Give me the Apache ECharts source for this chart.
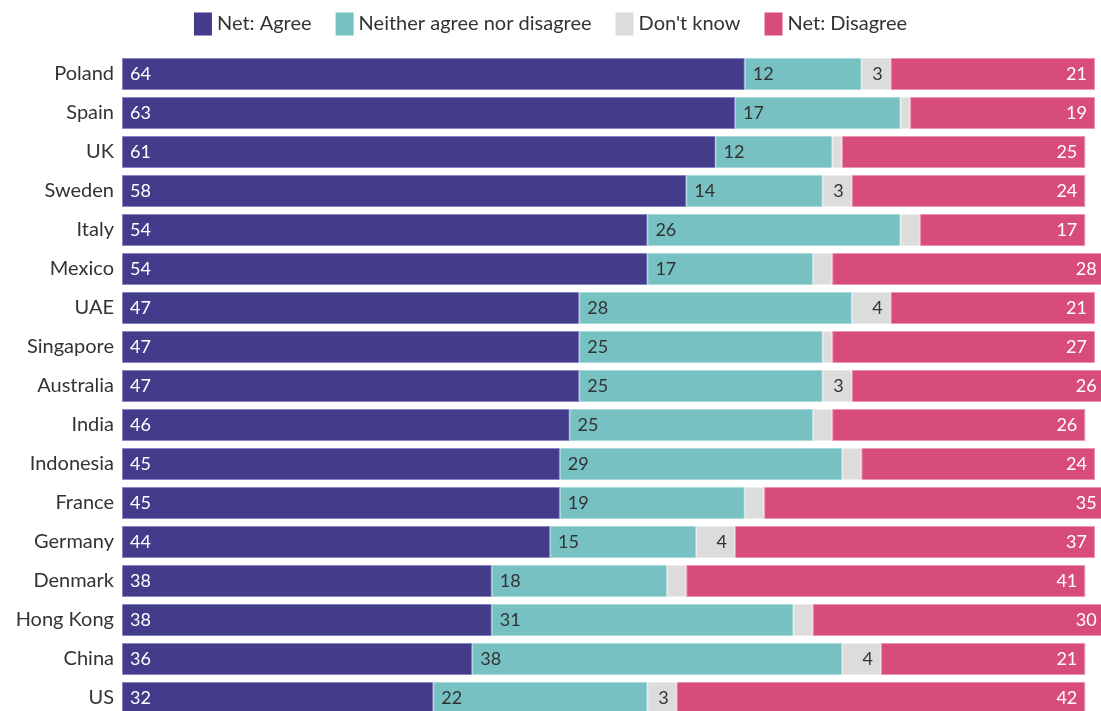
<!DOCTYPE html>
<html>
<head>
<meta charset="utf-8">
<script src="https://cdn.jsdelivr.net/npm/echarts@6/dist/echarts.min.js"></script>
<style>html,body{margin:0;padding:0;background:#fff}#c{width:1101px;height:711px}</style>
</head>
<body>
<div id="c"></div>
<script>
const categories = ["Poland","Spain","UK","Sweden","Italy","Mexico","UAE","Singapore","Australia","India","Indonesia","France","Germany","Denmark","Hong Kong","China","US"];
const netAgree   = [64,63,61,58,54,54,47,47,47,46,45,45,44,38,38,36,32];
const neither    = [12,17,12,14,26,17,28,25,25,25,29,19,15,18,31,38,22];
const dontKnow   = [3,1,1,3,2,2,4,1,3,2,2,2,4,2,2,4,3];
const netDisagree= [21,19,25,24,17,28,21,27,26,26,24,35,37,41,30,21,42];
const seriesNames = ["Net: Agree","Neither agree nor disagree","Don't know","Net: Disagree"];

const FONT = "Lato, 'Open Sans', sans-serif";
const colors = ['#433c8a','#77c1c3','#dcdcdc','#d84c7c'];
const borders = ['#8a84c4','#a9dadb','#ececec','#ec94b2'];
const labelPos = ['insideLeft','insideLeft','insideRight','insideRight'];
const labelCol = ['#ffffff','#333333','#333333','#ffffff'];
const datas = [netAgree, neither, dontKnow, netDisagree];

const chart = echarts.init(document.getElementById('c'));
chart.setOption({
  animation:false,
  legend:{
    top:12, left:'center',
    icon:'rect',
    itemWidth:18, itemHeight:23, itemGap:24, padding:0,
    itemStyle:{borderWidth:0},
    textStyle:{fontFamily:FONT, fontSize:20, color:'#333', lineHeight:24},
    data: seriesNames
  },
  grid:{left:122, width:973, top:54.5, height:663, containLabel:false, outerBoundsMode:'none'},
  xAxis:{type:'value', min:0, max:100, show:false},
  yAxis:{type:'category', data:categories, inverse:true,
    axisLine:{show:false}, axisTick:{show:false},
    axisLabel:{fontFamily:FONT, fontSize:20, color:'#333', margin:8}},
  series: seriesNames.map((n,i)=>({
    name:n, type:'bar', stack:'all', barWidth:32, clip:false,
    data: datas[i],
    itemStyle:{color:colors[i], borderColor:borders[i], borderWidth:1},
    label:{show:true, position:labelPos[i], distance:8, color:labelCol[i],
      fontFamily:FONT, fontSize:18,
      formatter:p=> p.value>=3 ? String(p.value) : ''}
  }))
});
</script>
</body>
</html>
